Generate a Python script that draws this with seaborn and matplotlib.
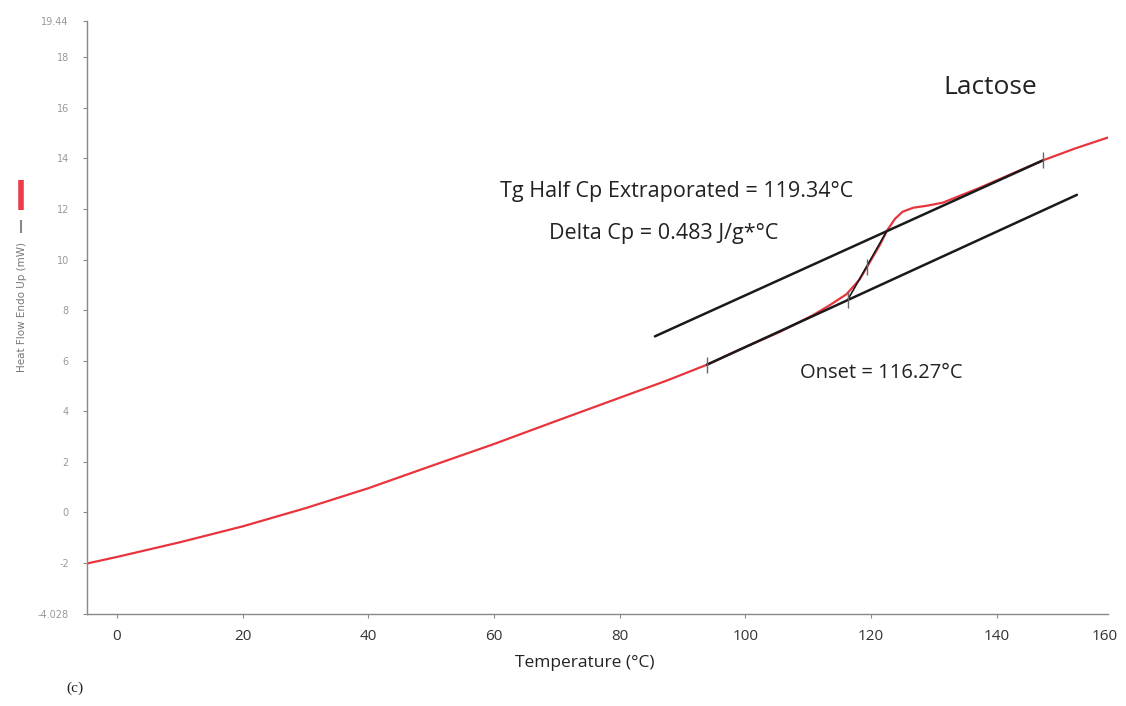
import matplotlib
matplotlib.use("Agg")
import matplotlib.pyplot as plt
from matplotlib.lines import Line2D
import pandas as pd
import seaborn as sns

# DSC trace of lactose (temperature in C, heat flow in mW)
temp = [-4.77, 0, 10, 20, 30, 40, 50, 60, 70, 80, 87.5, 93.9, 99.1, 105.5, 110.7,
        113.4, 116.1, 118.2, 119.8, 121.4, 122.5, 123.8, 125.0, 126.7, 128.9,
        131.4, 137.3, 142.1, 147.3, 152.4, 157.7]
heat_flow = [-2.03, -1.77, -1.19, -0.56, 0.16, 0.95, 1.83, 2.70, 3.62, 4.53, 5.21,
             5.84, 6.44, 7.14, 7.79, 8.19, 8.63, 9.22, 9.90, 10.58, 11.13, 11.61,
             11.89, 12.05, 12.13, 12.25, 12.84, 13.36, 13.92, 14.39, 14.83]

# Construction lines for the glass transition
lower_T = [93.9, 152.75]
lower_hf = [5.84, 12.56]
upper_T = [85.6, 147.3]
upper_hf = [6.96, 13.92]
infl_T = [116.27, 122.5]
infl_hf = [8.40, 11.13]

# small tick marks on the construction (start, end, onset, half Cp)
mark_T = [93.9, 147.3, 116.27, 119.34]
mark_hf = [5.84, 13.92, 8.40, 9.70]

x_ticks = [0, 20, 40, 60, 80, 100, 120, 140]
y_ticks = [-4.028, -2, 0, 2, 4, 6, 8, 10, 12, 14, 16, 18, 19.44]
y_labels = ["-4.028", "-2", "0", "2", "4", "6", "8", "10", "12", "14", "16", "18", "19.44"]

sns.set_style("white")
plt.rcParams["font.family"] = ["Open Sans", "DejaVu Sans"]

fig = plt.figure(figsize=(11.26, 7.06), dpi=100)
ax = fig.add_axes([87 / 1126, 1 - 614 / 706, (1108 - 87) / 1126, (614 - 21) / 706])

df = pd.DataFrame({"T": temp, "hf": heat_flow})
sns.lineplot(data=df, x="T", y="hf", ax=ax, color="#e8353d", lw=1.6, sort=False, estimator=None)

for xs, ys, w in [(lower_T, lower_hf, 1.8), (upper_T, upper_hf, 1.8), (infl_T, infl_hf, 1.2)]:
    sns.lineplot(x=xs, y=ys, ax=ax, color="#1a1a1a", lw=w, sort=False, estimator=None)

ax.scatter(mark_T, mark_hf, marker="|", s=130, color="#666666", linewidths=1.0, zorder=5)

ax.set_xlim(-4.77, 157.7)
ax.set_ylim(-4.028, 19.44)
ax.set_xticks(x_ticks)
ax.set_xticklabels([str(t) for t in x_ticks])
ax.set_yticks(y_ticks)
ax.set_yticklabels(y_labels, family=["DejaVu Sans"])
ax.set_xlabel("")
ax.set_ylabel("")

for s in ["top", "right"]:
    ax.spines[s].set_visible(False)
for s in ["left", "bottom"]:
    ax.spines[s].set_color("#888888")
    ax.spines[s].set_linewidth(1.0)

ax.tick_params(axis="x", direction="out", length=3, width=0.8, color="#888888",
               labelsize=11, labelcolor="#333333", pad=8, bottom=True)
ax.tick_params(axis="y", direction="out", length=3, width=0.8, color="#888888",
               labelsize=7, labelcolor="#999999", pad=10, left=True)

# last x label sits at the end of the axis
fig.text(1105 / 1126, 1 - 637 / 706, "160", ha="center", va="center", fontsize=11, color="#333333")

# y label with the little series keys, as in the instrument export
fig.text(22 / 1126, 1 - 307 / 706, "Heat Flow Endo Up (mW)", rotation=90, ha="center", va="center",
         fontsize=7.5, color="#777777", family=["DejaVu Sans"])
fig.add_artist(Line2D([21 / 1126, 21 / 1126], [1 - 180 / 706, 1 - 210 / 706], transform=fig.transFigure,
                      color="#ee3b45", lw=4, solid_capstyle="butt"))
fig.add_artist(Line2D([21 / 1126, 21 / 1126], [1 - 220 / 706, 1 - 233 / 706], transform=fig.transFigure,
                      color="#888888", lw=1.5, solid_capstyle="butt"))

fig.text(585 / 1126, 1 - 663 / 706, "Temperature (°C)", ha="center", va="center", fontsize=12.5, color="#222222")
fig.text(75 / 1126, 1 - 688 / 706, "(c)", ha="center", va="center", fontsize=11, color="#222222",
         family=["Liberation Serif"])

fig.text(943 / 1126, 1 - 88 / 706, "Lactose", ha="left", va="center", fontsize=19, color="#222222")
fig.text(500 / 1126, 1 - 191 / 706, "Tg Half Cp Extraporated = 119.34°C", ha="left", va="center",
         fontsize=15.5, color="#222222")
fig.text(549 / 1126, 1 - 233 / 706, "Delta Cp = 0.483 J/g*°C", ha="left", va="center",
         fontsize=15.5, color="#222222")
fig.text(800 / 1126, 1 - 373 / 706, "Onset = 116.27°C", ha="left", va="center",
         fontsize=14.5, color="#222222")

fig.savefig("out.png", dpi=100)
